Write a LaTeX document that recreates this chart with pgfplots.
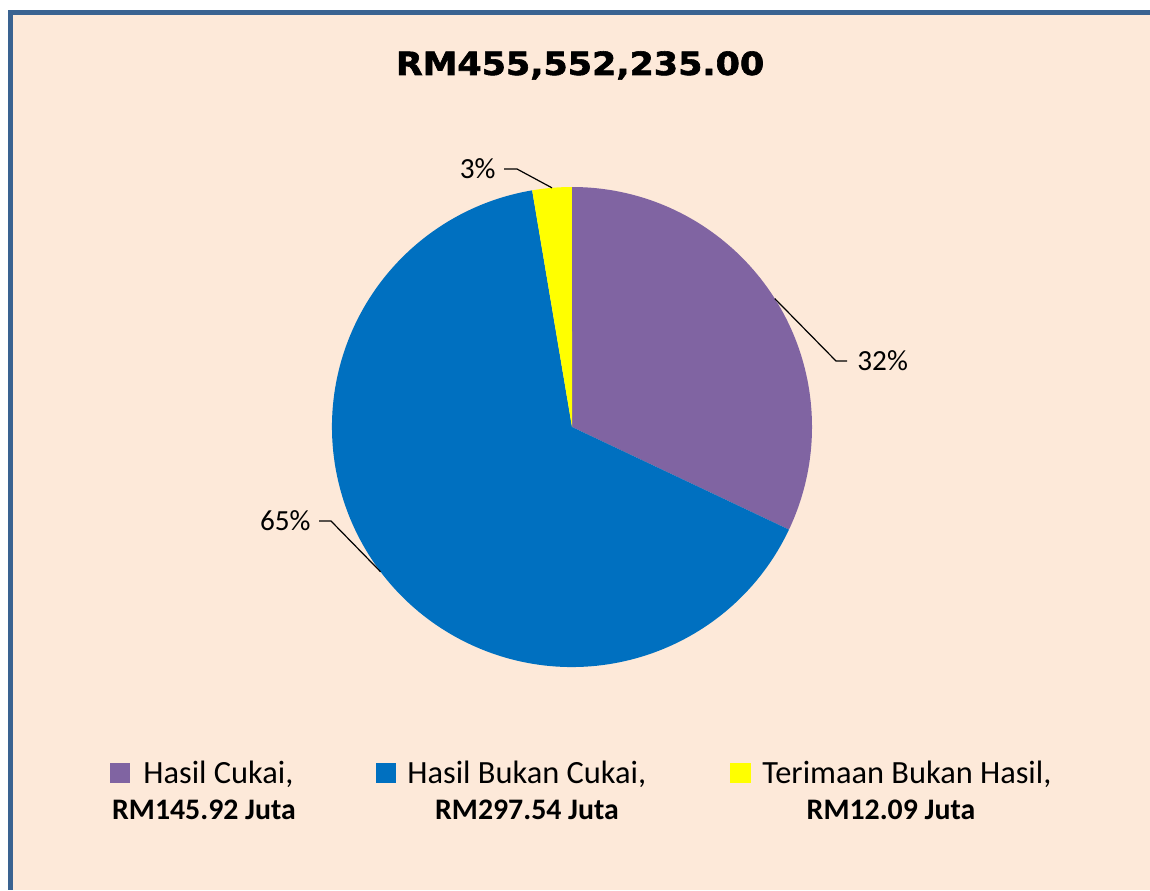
\documentclass[border=0pt]{standalone}
\usepackage{pgfplots}
\usepackage{pgfplotstable}
\pgfplotsset{compat=1.18}
\usepackage{fontspec}
\setmainfont{Carlito}
\newfontfamily\titlefont[BoldFeatures={FakeBold=1.8}]{DejaVu Sans}
\definecolor{bg}{HTML}{FDE9D9}
\definecolor{framecol}{HTML}{3A6391}
\definecolor{cukai}{HTML}{8064A2}
\definecolor{bukan}{HTML}{0070C0}
\definecolor{terima}{HTML}{FFFF00}

% revenue in RM million
\pgfplotstableread{
name   value
cukai  145.92
bukan  297.54
terima 12.09
}\revenue

\begin{document}
\begin{tikzpicture}
\pgfplotstablegetelem{0}{value}\of\revenue \let\va\pgfplotsretval
\pgfplotstablegetelem{1}{value}\of\revenue \let\vb\pgfplotsretval
\pgfplotstablegetelem{2}{value}\of\revenue \let\vc\pgfplotsretval
\pgfmathsetmacro\tot{\va+\vb+\vc}
\pgfmathsetmacro\aA{90}
\pgfmathsetmacro\aB{\aA-360*(\va/\tot)}
\pgfmathsetmacro\aC{\aB-360*(\vb/\tot)}
\pgfmathsetmacro\aD{\aC-360*(\vc/\tot)}
\pgfmathsetmacro\mA{(\aA+\aB)/2}
\pgfmathsetmacro\mB{(\aB+\aC)/2}
\pgfmathsetmacro\mC{(\aC+\aD)/2}

% background, in image pixels (y down)
\begin{scope}[shift={(0pt,445pt)},x=0.5pt,y=-0.5pt]
  \useasboundingbox (0,0) rectangle (1150,890);
  \fill[white] (0,0) rectangle (1150,890);
  \fill[bg] (8,10) rectangle (1150,890);
  \fill[framecol] (8,10) rectangle (1150,15);
  \fill[framecol] (8,10) rectangle (12.5,890);
  \node[anchor=base, inner sep=0pt] at (580,75)
    {\scalebox{1.09}[1]{\titlefont\fontsize{16}{18}\selectfont\bfseries RM455,552,235.00}};
\end{scope}

\begin{axis}[
    at={(286pt,231.5pt)}, anchor=center,
    scale only axis, width=240pt, height=240pt,
    xmin=-1, xmax=1, ymin=-1, ymax=1,
    hide axis, clip=false,
]
\fill[cukai] (axis cs:0,0) -- (axis cs:{cos(\aA)},{sin(\aA)})
  arc[start angle=\aA, end angle=\aB, radius=120pt] -- cycle;
\fill[bukan] (axis cs:0,0) -- (axis cs:{cos(\aB)},{sin(\aB)})
  arc[start angle=\aB, end angle=\aC, radius=120pt] -- cycle;
\fill[terima] (axis cs:0,0) -- (axis cs:{cos(\aC)},{sin(\aC)})
  arc[start angle=\aC, end angle=\aD, radius=120pt] -- cycle;
\coordinate (pA) at (axis cs:{cos(\mA)},{sin(\mA)});
\coordinate (pB) at (axis cs:{cos(\mB)},{sin(\mB)});
\coordinate (pC) at (axis cs:{cos(\mC)},{sin(\mC)});
\end{axis}

\begin{scope}[shift={(0pt,445pt)},x=0.5pt,y=-0.5pt]
  % leader lines and percentages
  \begingroup
  \fontsize{14.6}{17}\selectfont
  \draw[line width=0.6pt] (pA) -- (836,361) -- (847,361);
  \node[anchor=west, inner sep=0pt] at (857,361) {32\%};
  \draw[line width=0.6pt] (pB) -- (331,521) -- (319,521);
  \node[anchor=east, inner sep=0pt] at (311,521) {65\%};
  \draw[line width=0.6pt] (pC) -- (517,169) -- (504,169);
  \node[anchor=east, inner sep=0pt] at (496,169) {3\%};
  \endgroup
  % legend
  \fill[cukai] (110,763) rectangle (130,783);
  \node[anchor=base west, inner sep=0pt, font=\fontsize{16.2}{18}\selectfont] at (143,783) {Hasil Cukai,};
  \node[anchor=base, inner sep=0pt, font=\fontsize{14.9}{17}\selectfont\bfseries] at (204,819) {RM145.92 Juta};
  \fill[bukan] (376,763) rectangle (396,783);
  \node[anchor=base west, inner sep=0pt, font=\fontsize{16.2}{18}\selectfont] at (407,783) {Hasil Bukan Cukai,};
  \node[anchor=base, inner sep=0pt, font=\fontsize{14.9}{17}\selectfont\bfseries] at (527,819) {RM297.54 Juta};
  \fill[terima] (730,763) rectangle (751,783);
  \node[anchor=base west, inner sep=0pt, font=\fontsize{16.2}{18}\selectfont] at (762,783) {Terimaan Bukan Hasil,};
  \node[anchor=base, inner sep=0pt, font=\fontsize{14.9}{17}\selectfont\bfseries] at (891,819) {RM12.09 Juta};
  % keep the right edge plain
  \fill[bg] (1120,15) rectangle (1150,890);
\end{scope}
\end{tikzpicture}
\end{document}
